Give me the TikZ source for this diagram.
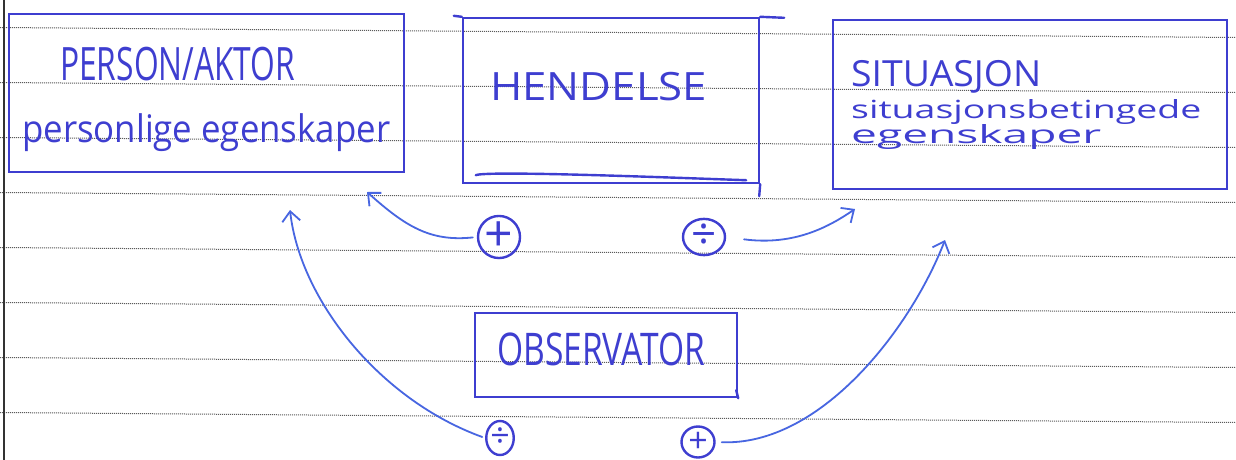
\documentclass[tikz,border=0pt]{standalone}
\usepackage{fontspec}
\setmainfont{Open Sans}
\usetikzlibrary{arrows.meta,shapes.geometric}
\definecolor{pen}{RGB}{62,62,208}
\definecolor{pentwo}{RGB}{72,102,225}
\definecolor{ruling}{RGB}{90,90,90}
\newcommand{\hw}[3]{\resizebox{#1pt}{\height}{\fontsize{#2}{#2}\selectfont #3}}
\begin{document}
\begin{tikzpicture}[x=1pt,y=-1pt,
 box/.style={draw=pen, line width=2.4pt, rectangle, inner sep=0},
 penstroke/.style={draw=pen, line width=2.4pt, line cap=round},
 lbl/.style={anchor=base west, inner sep=0, text=pen},
 sign/.style={ellipse, draw=pen, line width=2.4pt, inner sep=0, text=pen},
 arr/.style={draw=pentwo, line width=1.8pt, line cap=round, -{Straight Barb[length=10pt,width=18pt,line width=1.8pt]}},
 ruleline/.style={draw=ruling, densely dotted, line width=1pt}]
\useasboundingbox (0,0) rectangle (1236,460);
\fill[white] (0,0) rectangle (1236,460);
% ruled paper
\foreach \y in {27.5,82.5,137.5,192.5,247.5,302.5,357.5,412.5}
  \draw[ruleline] (0,\y) -- (1236,\y+10);
\draw[line width=1.6pt, black!80] (4,0) -- (4,460);

% boxes
\node[box, minimum width=395pt, minimum height=158pt] (person) at (206.5,93) {};
\node[box, minimum width=296pt, minimum height=165pt] (hendelse) at (611,100.5) {};
\node[box, minimum width=394pt, minimum height=169pt] (situasjon) at (1030,104.5) {};
\node[box, minimum width=262pt, minimum height=84pt] (observator) at (606,355) {};

% hand-drawn overhangs of the HENDELSE box
\draw[penstroke] (hendelse.north west) -- ++(-8,-1);
\draw[penstroke] (hendelse.north east) -- ++(24,1);
\draw[penstroke] (hendelse.south east) -- ++(-1,12);
\draw[penstroke] ([xshift=14pt,yshift=9pt]hendelse.south west) .. controls ++(10,-5) and ++(-60,-2) .. ([xshift=-14pt,yshift=4pt]hendelse.south east);
\draw[penstroke] (observator.south east) -- ++(-2,-8);

% texts
\node[lbl] (personT) at (60,80) {\hw{235}{46}{PERSON/AKTOR}};
\node[lbl] (personS) at (22,142) {\hw{368}{38}{personlige egenskaper}};
\node[lbl] (hendT) at (490,100) {\hw{217}{39}{HENDELSE}};
\node[lbl] (sitT) at (851,86) {\hw{190}{36}{SITUASJON}};
\node[lbl] (sitSa) at (851,118) {\hw{350}{25}{situasjonsbetingede}};
\node[lbl] (sitSb) at (851,143) {\hw{250}{25}{egenskaper}};
\node[lbl] (obsT) at (497,365) {\hw{208}{45}{OBSERVATOR}};

% signs
\node[sign, minimum width=42pt, minimum height=40pt, font=\fontsize{50}{50}\selectfont] (plusT) at (499,237) {+};
\node[sign, minimum width=42pt, minimum height=35pt, font=\fontsize{44}{44}\selectfont] (divT) at (704,237) {÷};
\node[sign, minimum width=27pt, minimum height=34pt, font=\fontsize{34}{34}\selectfont] (divB) at (500,438) {÷};
\node[sign, minimum width=33pt, minimum height=31pt, font=\fontsize{34}{34}\selectfont] (plusB) at (698,442) {+};

% arrow end points
\coordinate (tipA) at (367,192);
\coordinate (tipB) at (855,209);
\coordinate (tipC) at (290,210);
\coordinate (tipD) at (945,240);

\draw[arr, shorten <=4pt] (plusT.west) .. controls (430,242) and (405,226) .. (tipA);
\draw[arr, shorten <=18pt] (divT.east) .. controls (795,246) and (830,226) .. (tipB);
\draw[arr, shorten <=3pt] (divB.west) .. controls (380,400) and (300,300) .. (tipC);
\draw[arr, shorten <=6pt] (plusB.east) .. controls (820,446) and (910,330) .. (tipD);
\end{tikzpicture}
\end{document}
